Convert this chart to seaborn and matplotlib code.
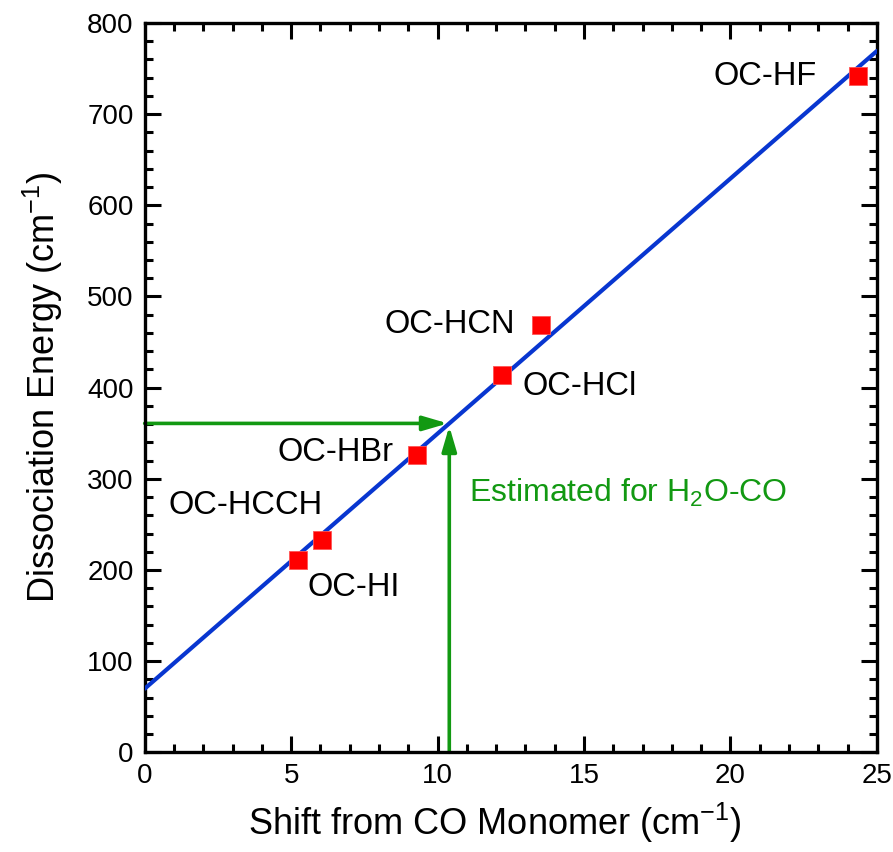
#!/usr/bin/env python3
"""
Dissociation energy vs CO frequency shift for OC-HX complexes
"""

import matplotlib
matplotlib.use("Agg")
import matplotlib.pyplot as plt
import seaborn as sns
import pandas as pd
import numpy as np
from matplotlib.ticker import MultipleLocator

# Data
complexes = ['OC-HF', 'OC-HCN', 'OC-HCl', 'OC-HBr', 'OC-HCCH', 'OC-HI']
shift = [24.35, 13.52, 12.19, 9.29, 6.05, 5.23]
energy = [742, 469, 414, 326, 233, 211]

# label anchor points (data units) and alignment
label_x = [22.95, 12.64, 12.9, 8.5, 6.08, 5.57]
label_y = [741, 469, 401, 329, 271, 181]
label_ha = ['right', 'right', 'left', 'right', 'right', 'left']

estimate_shift = 10.4
estimate_text_xy = (11.08, 284)

sns.set_style("ticks", {'axes.edgecolor': 'black', 'text.color': 'black',
                        'xtick.color': 'black', 'ytick.color': 'black',
                        'axes.labelcolor': 'black'})
plt.rcParams['font.family'] = ['Liberation Sans', 'DejaVu Sans']
plt.rcParams['mathtext.fontset'] = 'custom'
plt.rcParams['mathtext.rm'] = 'Liberation Sans'
plt.rcParams['mathtext.it'] = 'Liberation Sans'

df = pd.DataFrame({'complex': complexes, 'shift': shift, 'energy': energy})

fig = plt.figure(figsize=(8.93, 8.52), dpi=100)
ax = fig.add_axes([0.162, 0.117, 0.820, 0.856])
ax.set_xlim(0, 25)
ax.set_ylim(0, 800)

# least-squares line across the whole axis
sns.regplot(data=df, x='shift', y='energy', ax=ax, ci=None, truncate=False,
            scatter=False, line_kws={'color': '#0836d0', 'lw': 3.0, 'zorder': 3})

# estimate arrows for H2O-CO
slope, intercept = np.polyfit(shift, energy, 1)
estimate_energy = intercept + slope * estimate_shift
green = '#129912'
arrow = dict(arrowstyle='-|>,head_length=0.75,head_width=0.22', color=green,
             lw=2.6, mutation_scale=20, shrinkA=0, shrinkB=0)
ax.annotate('', xy=(estimate_shift - 0.05, estimate_energy),
            xytext=(0, estimate_energy), arrowprops=arrow, zorder=2)
ax.annotate('', xy=(estimate_shift, estimate_energy - 3),
            xytext=(estimate_shift, 0), arrowprops=arrow, zorder=2)
ax.text(*estimate_text_xy, 'Estimated for H$_2$O-CO', color=green,
        fontsize=23, ha='left', va='center')

sns.scatterplot(data=df, x='shift', y='energy', ax=ax, marker='s', s=150,
                color='#ff0000', edgecolor='#ff5555', linewidth=0.6, zorder=4)

for name, lx, ly, ha in zip(complexes, label_x, label_y, label_ha):
    ax.text(lx, ly, name, fontsize=23.5, ha=ha, va='center')

ax.set_xlabel('Shift from CO Monomer (cm$^{-1}$)', fontsize=26)
ax.set_ylabel('Dissociation Energy (cm$^{-1}$)', fontsize=26, labelpad=16)
ax.xaxis.set_label_coords(0.478, -0.066)

ax.xaxis.set_major_locator(MultipleLocator(5))
ax.xaxis.set_minor_locator(MultipleLocator(1))
ax.yaxis.set_major_locator(MultipleLocator(100))
ax.yaxis.set_minor_locator(MultipleLocator(20))
ax.tick_params(which='both', direction='in', top=True, right=True,
               width=2.2, labelsize=20, pad=8)
ax.tick_params(which='major', length=11.5)
ax.tick_params(which='minor', length=5.5)
for spine in ax.spines.values():
    spine.set_linewidth(2.4)

fig.savefig('out.png', dpi=100)
